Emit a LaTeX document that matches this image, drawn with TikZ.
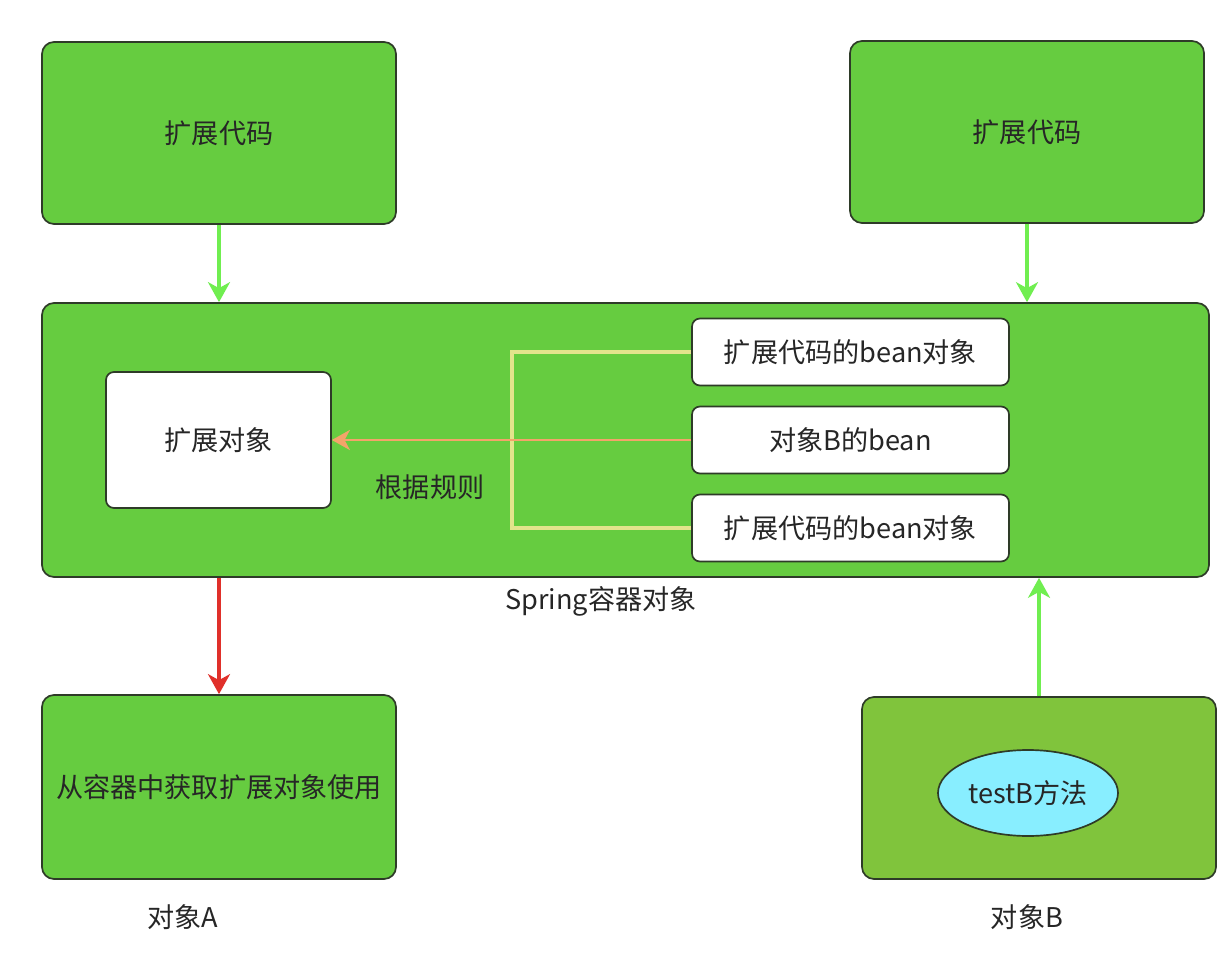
\documentclass[tikz,border=0pt]{standalone}
\usepackage{fontspec}
\setmainfont{Noto Sans CJK SC}
\usepackage{xcolor}
\usetikzlibrary{arrows.meta,shapes.geometric}
\definecolor{SpGreen}{HTML}{66CC40}
\definecolor{SpLime}{HTML}{80C43C}
\definecolor{SpEdge}{HTML}{2E3B28}
\definecolor{SpArrow}{HTML}{70EE50}
\definecolor{SpRed}{HTML}{E0302A}
\definecolor{SpOrange}{HTML}{F4A46A}
\definecolor{SpYellow}{HTML}{E2E48C}
\definecolor{SpCyan}{HTML}{88EEFF}
\newcommand{\bigtxt}{\fontsize{19.3}{23}\selectfont}

\begin{document}
\begin{tikzpicture}[x=1cm,y=1cm,
  gbox/.style={draw=SpEdge,line width=1.2pt,rounded corners=0.3cm,fill=SpGreen,font=\bigtxt,
    minimum width=8.85cm,minimum height=4.55cm,inner sep=0pt,text=black!85},
  wbox/.style={draw=SpEdge,line width=1.2pt,rounded corners=0.2cm,fill=white,font=\bigtxt,
    inner sep=0pt,text=black!85},
  lbl/.style={font=\bigtxt,text=black!85,inner sep=1pt},
  garr/.style={draw=SpArrow,line width=2.2pt,-{Stealth[length=0.5cm,width=0.55cm,inset=0.15cm]}},
  rarr/.style={draw=SpRed,line width=2.2pt,-{Stealth[length=0.5cm,width=0.55cm,inset=0.15cm]}},
  oarr/.style={draw=SpOrange,line width=2pt,-{Stealth[length=0.45cm,width=0.5cm,inset=0.13cm]}}]
\path[use as bounding box,fill=white] (0,0) rectangle (30.775,23.80);
\node[gbox] (codeL) at (5.475,20.475) {扩展代码};
\node[gbox] (codeR) at (25.675,20.50) {扩展代码};
\node[gbox,minimum width=29.175cm,minimum height=6.85cm] (spring) at (15.6375,12.80) {};
\node[wbox,minimum width=5.625cm,minimum height=3.40cm] (ext) at (5.4625,12.80) {扩展对象};
\node[wbox,minimum width=7.925cm,minimum height=1.675cm] (beanT) at (21.2625,15.00) {扩展代码的bean对象};
\node[wbox,minimum width=7.925cm,minimum height=1.675cm] (beanB) at (21.2625,12.80) {对象B的bean};
\node[wbox,minimum width=7.925cm,minimum height=1.675cm] (beanD) at (21.2625,10.60) {扩展代码的bean对象};
\coordinate (bend) at (12.80,12.80);
\node[lbl] (rule) at (10.75,11.625) {根据规则};
\node[lbl] (springlbl) at (15.025,8.775) {Spring容器对象};
\node[gbox,minimum height=4.60cm] (useA) at (5.475,4.125) {从容器中获取扩展对象使用};
\node[gbox,fill=SpLime] (objB) at (25.975,4.10) {};
\node[ellipse,draw=SpEdge,line width=1.2pt,fill=SpCyan,minimum width=4.5cm,minimum height=2.15cm,
  inner sep=0pt,font=\bigtxt,text=black!85] (testB) at (25.70,3.975) {testB方法};
\node[lbl] (nameA) at (4.575,0.875) {对象A};
\node[lbl] (nameB) at (25.675,0.875) {对象B};
\draw[SpYellow,line width=2.6pt] (beanT.west) -| (bend) |- (beanD.west);
\draw[oarr] (beanB.west) -- (ext.east);
\draw[garr] (codeL.south) -- (codeL.south |- spring.north);
\draw[garr] (codeR.south) -- (codeR.south |- spring.north);
\draw[rarr] (useA.north |- spring.south) -- (useA.north);
\draw[garr] (objB.north) -- (objB.north |- spring.south);
\end{tikzpicture}
\end{document}
